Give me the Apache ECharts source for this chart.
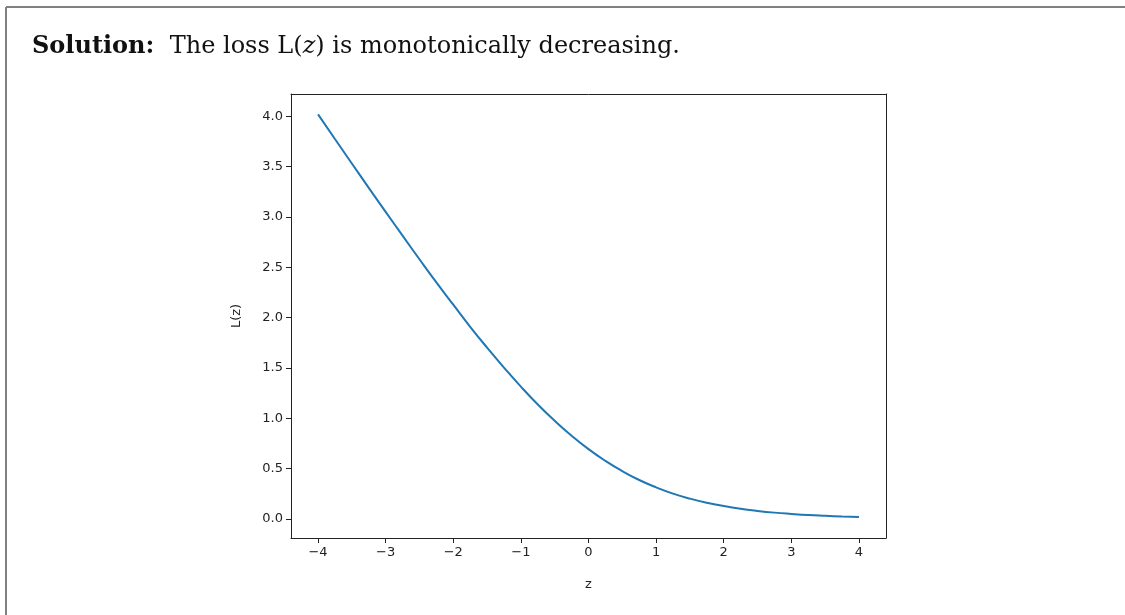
<!DOCTYPE html>
<html>
<head>
<meta charset="utf-8">
<script src="https://cdn.jsdelivr.net/npm/echarts@6/dist/echarts.min.js"></script>
<style>
  html, body { margin: 0; padding: 0; background: #fff; }
  #main { width: 1125px; height: 615px; }
</style>
</head>
<body>
<div id="main"></div>
<script>
// z values and L(z)
var zVals = [-4, -3.75, -3.5, -3.25, -3, -2.75, -2.5, -2.25, -2, -1.75, -1.5, -1.25, -1, -0.75, -0.5, -0.25,
             0, 0.25, 0.5, 0.75, 1, 1.25, 1.5, 1.75, 2, 2.25, 2.5, 2.75, 3, 3.25, 3.5, 3.75, 4];
var lossVals = [4.018, 3.773, 3.530, 3.288, 3.049, 2.813, 2.579, 2.349, 2.127, 1.908, 1.701, 1.503, 1.313, 1.136, 0.974, 0.826,
                0.693, 0.576, 0.474, 0.386, 0.313, 0.251, 0.201, 0.160, 0.127, 0.100, 0.079, 0.062, 0.049, 0.038, 0.030, 0.023, 0.018];
var xTicks = [-4, -3, -2, -1, 0, 1, 2, 3, 4];
var yTicks = [0.0, 0.5, 1.0, 1.5, 2.0, 2.5, 3.0, 3.5, 4.0];

var myChart = echarts.init(document.getElementById('main'));

var points = [];
for (var i = 0; i < zVals.length; i++) {
    points.push([zVals[i], lossVals[i]]);
}

function minus(v) {
    return String(v).replace('-', '\u2212');
}

var tickFont = { fontFamily: 'DejaVu Sans', fontSize: 13, color: '#222' };

var option = {
    animation: false,
    backgroundColor: '#fff',
    title: {
        left: 27,
        top: 30,
        text: '{b|Solution:}  The loss L({i|z}) is monotonically decreasing.',
        textStyle: {
            fontFamily: 'DejaVu Serif',
            fontSize: 24,
            color: '#111',
            fontWeight: 'normal',
            rich: {
                b: { fontFamily: 'DejaVu Serif', fontSize: 24, fontWeight: 'bold', color: '#111' },
                i: { fontFamily: 'DejaVu Serif', fontSize: 24, fontStyle: 'italic', color: '#111' }
            }
        }
    },
    graphic: [
        { type: 'line', shape: { x1: 6, y1: 7, x2: 1125, y2: 7 }, style: { stroke: '#808080', lineWidth: 2 } },
        { type: 'line', shape: { x1: 6, y1: 7, x2: 6, y2: 615 }, style: { stroke: '#808080', lineWidth: 2 } }
    ],
    grid: {
        left: 291,
        top: 94,
        width: 595,
        height: 444,
        outerBoundsMode: 'none'
    },
    xAxis: [{
        type: 'value',
        min: -4.4,
        max: 4.4,
        interval: 1,
        name: 'z',
        nameLocation: 'middle',
        nameGap: 40,
        nameTextStyle: { fontFamily: 'DejaVu Sans', fontSize: 13, color: '#222' },
        axisLine: { show: true, onZero: false, lineStyle: { color: '#222', width: 1 } },
        axisTick: { show: true, length: 5, lineStyle: { color: '#222' }, customValues: xTicks },
        axisLabel: Object.assign({ margin: 8, customValues: xTicks, formatter: minus }, tickFont),
        splitLine: { show: false }
    }, {
        type: 'value',
        position: 'top',
        min: -4.4,
        max: 4.4,
        axisLine: { show: true, onZero: false, lineStyle: { color: '#222', width: 1 } },
        axisTick: { show: false },
        axisLabel: { show: false },
        splitLine: { show: false }
    }],
    yAxis: [{
        type: 'value',
        min: -0.19,
        max: 4.22,
        name: 'L(z)',
        nameLocation: 'middle',
        nameGap: 48,
        nameRotate: 90,
        nameTextStyle: { fontFamily: 'DejaVu Sans', fontSize: 13, color: '#222' },
        axisLine: { show: true, onZero: false, lineStyle: { color: '#222', width: 1 } },
        axisTick: { show: true, length: 5, lineStyle: { color: '#222' }, customValues: yTicks },
        axisLabel: Object.assign({
            margin: 8,
            customValues: yTicks,
            formatter: function (v) { return v.toFixed(1); }
        }, tickFont),
        splitLine: { show: false }
    }, {
        type: 'value',
        position: 'right',
        min: -0.19,
        max: 4.22,
        axisLine: { show: true, onZero: false, lineStyle: { color: '#222', width: 1 } },
        axisTick: { show: false },
        axisLabel: { show: false },
        splitLine: { show: false }
    }],
    series: [{
        type: 'line',
        data: points,
        smooth: 0.5,
        showSymbol: false,
        lineStyle: { color: '#1f77b4', width: 2 }
    }]
};
myChart.setOption(option);

window.onresize = myChart.resize;
</script>
</body>
</html>
